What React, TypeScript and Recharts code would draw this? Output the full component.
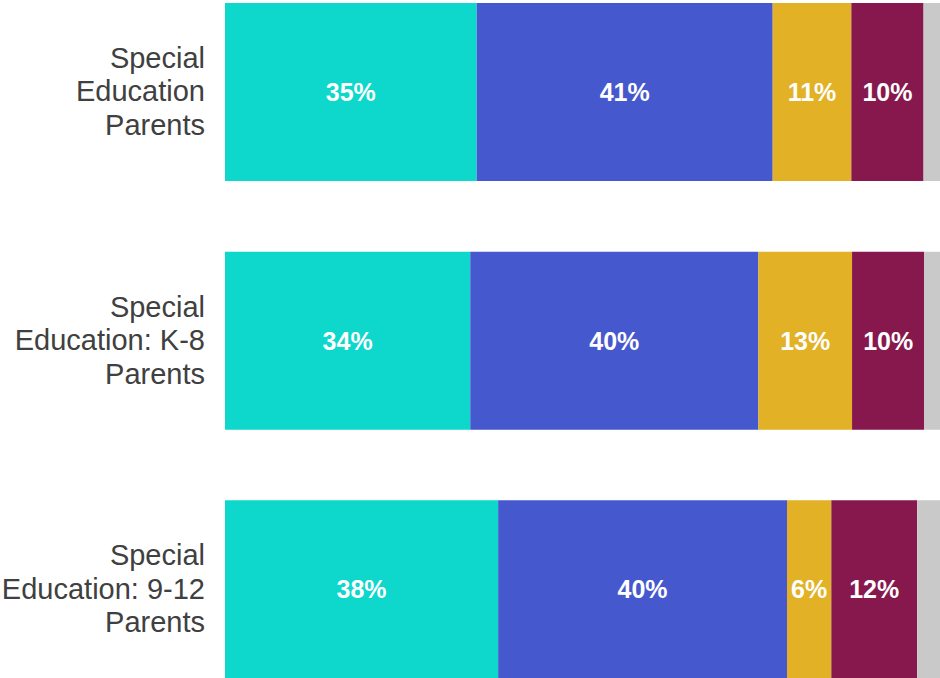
import React from "react";
import { BarChart, Bar, XAxis, YAxis, LabelList } from "recharts";

const categories = [
  ["Special", "Education", "Parents"],
  ["Special", "Education: K-8", "Parents"],
  ["Special", "Education: 9-12", "Parents"],
];
const tealValues = [35.2, 34.3, 38.2];
const blueValues = [41.4, 40.3, 40.4];
const yellowValues = [11.0, 13.1, 6.2];
const maroonValues = [10.1, 10.1, 12.0];
const grayValues = [2.3, 2.2, 3.2];

const data = categories.map((lines, i) => ({
  name: lines.join("\n"),
  teal: tealValues[i],
  blue: blueValues[i],
  yellow: yellowValues[i],
  maroon: maroonValues[i],
  gray: grayValues[i],
}));

const series = [
  { key: "teal", color: "#0ed7cb", label: true },
  { key: "blue", color: "#4658cd", label: true },
  { key: "yellow", color: "#e2b126", label: true },
  { key: "maroon", color: "#86184e", label: true },
  { key: "gray", color: "#c9c9c9", label: false },
];

const CategoryTick = (props: any) => {
  const { x, y, payload } = props;
  const lines = String(payload.value).split("\n");
  const lh = 33.5;
  const start = y - ((lines.length - 1) * lh) / 2 + 9;
  return (
    <text
      x={x}
      y={start}
      textAnchor="end"
      fill="#404040"
      fontSize={29}
      fontFamily="'Liberation Sans', Arial, sans-serif"
    >
      {lines.map((l, i) => (
        <tspan key={i} x={x} y={start + i * lh}>
          {l}
        </tspan>
      ))}
    </text>
  );
};

export default function App() {
  return (
    <div
      style={{
        position: "absolute",
        left: 0,
        top: 0,
        width: 940,
        height: 678,
        overflow: "hidden",
        background: "#ffffff",
      }}
    >
      <div style={{ position: "absolute", left: 0, top: -32 }}>
        <BarChart
          width={940}
          height={746}
          data={data}
          layout="vertical"
          margin={{ top: 0, right: 0, bottom: 0, left: 0 }}
        >
          <XAxis type="number" domain={[0, 100]} hide />
          <YAxis
            type="category"
            dataKey="name"
            width={225}
            axisLine={false}
            tickLine={false}
            tickSize={0}
            tickMargin={20}
            tick={<CategoryTick />}
            interval={0}
          />
          {series.map((s) => (
            <Bar
              key={s.key}
              dataKey={s.key}
              stackId="a"
              fill={s.color}
              barSize={178}
              isAnimationActive={false}
            >
              {s.label && (
                <LabelList
                  dataKey={s.key}
                  position="center"
                  fill="#ffffff"
                  fontSize={25}
                  fontWeight="bold"
                  fontFamily="'Liberation Sans', Arial, sans-serif"
                  formatter={(v: any) => `${Math.round(Number(v))}%`}
                />
              )}
            </Bar>
          ))}
        </BarChart>
      </div>
    </div>
  );
}
